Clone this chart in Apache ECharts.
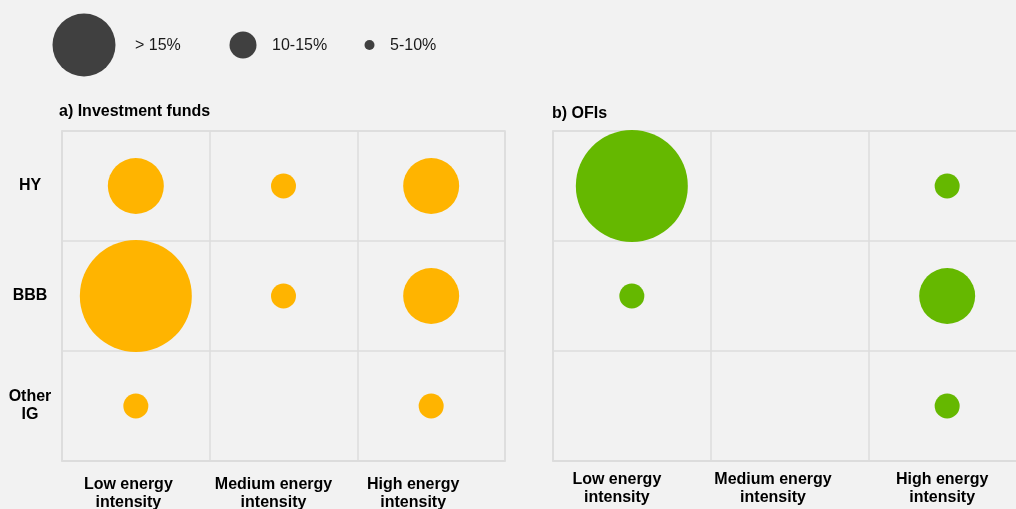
<!DOCTYPE html>
<html><head><meta charset="utf-8">
<script src="https://cdn.jsdelivr.net/npm/echarts/dist/echarts.min.js"></script>
<style>html,body{margin:0;padding:0;background:#f2f2f2;} #c{width:1016px;height:509px;}</style>
</head><body><div id="c"></div>
<script>
// Categories
const energyCats = ['Low energy\nintensity', 'Medium energy\nintensity', 'High energy\nintensity'];
const ratingCats = ['HY', 'BBB', 'Other\nIG'];
const sizeBuckets = ['> 15%', '10-15%', '5-10%'];

// Panel a) Investment funds: columns Low, Medium, High energy intensity
const fundsHY      = ['10-15%', '5-10%', '10-15%'];
const fundsBBB     = ['> 15%',  '5-10%', '10-15%'];
const fundsOtherIG = ['5-10%',  null,    '5-10%'];

// Panel b) OFIs
const ofisHY      = ['> 15%',  null, '5-10%'];
const ofisBBB     = ['5-10%',  null, '10-15%'];
const ofisOtherIG = [null,     null, '5-10%'];

// styling
const bubbleSize = { '> 15%': 112, '10-15%': 56, '5-10%': 25 };
const legendSize = { '> 15%': 63, '10-15%': 27, '5-10%': 10 };
const legendPos = [[84, 135], [243, 272], [369.5, 390]];

function toData(rows) {
  const out = [];
  rows.forEach((row, r) => row.forEach((b, c) => { if (b) out.push([c, r, b]); }));
  return out;
}
const fundsData = toData([fundsHY, fundsBBB, fundsOtherIG]);
const ofisData = toData([ofisHY, ofisBBB, ofisOtherIG]);

const FONT = '"Liberation Sans", Arial, sans-serif';
const gridColor = '#dcdcdc';
const gridWidth = 1.5;
const lblFont = { fontFamily: FONT, fontSize: 16, fontWeight: 'bold', color: '#000', lineHeight: 18 };

function xAxisFor(gridIndex, pads, margin) {
  const rich = {};
  pads.forEach((p, i) => { rich['p' + i] = Object.assign({ padding: [0, p, 0, 0] }, lblFont); });
  return {
    type: 'category', gridIndex, data: energyCats, boundaryGap: true,
    axisTick: { show: false },
    axisLine: { show: true, lineStyle: { color: gridColor, width: gridWidth } },
    splitLine: { show: true, lineStyle: { color: gridColor, width: gridWidth } },
    axisLabel: Object.assign({
      interval: 0, margin, hideOverlap: false,
      formatter: (v, i) => v.split('\n').map(l => '{p' + i + '|' + l + '}').join('\n'),
      rich
    }, lblFont)
  };
}
function yAxisFor(gridIndex, showLabels) {
  return {
    type: 'category', gridIndex, data: ratingCats, inverse: true, boundaryGap: true,
    axisTick: { show: false },
    axisLine: { show: true, lineStyle: { color: gridColor, width: gridWidth } },
    splitLine: { show: true, lineStyle: { color: gridColor, width: gridWidth } },
    axisLabel: Object.assign({ show: showLabels, interval: 0, align: 'center', margin: 32 }, lblFont)
  };
}

const graphics = [];
sizeBuckets.forEach((b, i) => {
  graphics.push({ type: 'circle', shape: { cx: legendPos[i][0], cy: 45, r: legendSize[b] / 2 }, style: { fill: '#404040' }, silent: true });
  graphics.push({ type: 'text', x: legendPos[i][1], y: 46, style: { text: b, fontFamily: FONT, fontSize: 16, fill: '#1a1a1a', verticalAlign: 'middle', textVerticalAlign: 'middle' } });
});
graphics.push({ type: 'text', x: 59, y: 112, style: { text: 'a) Investment funds', fontFamily: FONT, fontSize: 16, fontWeight: 'bold', fill: '#000', verticalAlign: 'middle', textVerticalAlign: 'middle' } });
graphics.push({ type: 'text', x: 552, y: 114, style: { text: 'b) OFIs', fontFamily: FONT, fontSize: 16, fontWeight: 'bold', fill: '#000', verticalAlign: 'middle', textVerticalAlign: 'middle' } });

const chart = echarts.init(document.getElementById('c'), null, { renderer: 'canvas' });
chart.setOption({
  backgroundColor: '#f2f2f2',
  animation: false,
  grid: [
    { left: 62, top: 131, width: 443, height: 330, show: true, borderColor: gridColor, borderWidth: gridWidth, outerBoundsMode: 'none', containLabel: false },
    { left: 553, top: 131, width: 473, height: 330, show: true, borderColor: gridColor, borderWidth: gridWidth, outerBoundsMode: 'none', containLabel: false }
  ],
  xAxis: [xAxisFor(0, [15, 20, 36], 15), xAxisFor(1, [30, 33, 10], 10)],
  yAxis: [yAxisFor(0, true), yAxisFor(1, false)],
  graphic: graphics,
  series: [
    { type: 'scatter', xAxisIndex: 0, yAxisIndex: 0, data: fundsData,
      symbolSize: v => bubbleSize[v[2]], itemStyle: { color: '#FFB400', opacity: 1 } },
    { type: 'scatter', xAxisIndex: 1, yAxisIndex: 1, data: ofisData,
      symbolSize: v => bubbleSize[v[2]], itemStyle: { color: '#65B800', opacity: 1 } }
  ]
});
</script>
</body></html>
